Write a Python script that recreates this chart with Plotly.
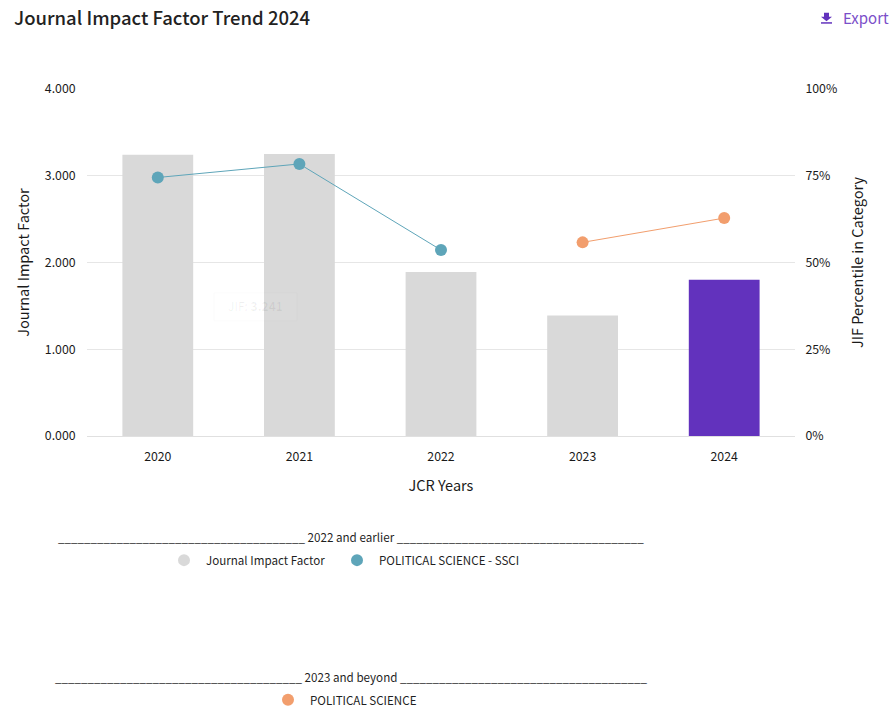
import plotly.graph_objects as go

FONT = "Noto Sans CJK SC"
years = ["2020", "2021", "2022", "2023", "2024"]
jif_values = [3.241, 3.25, 1.89, 1.39, 1.80]
bar_colors = ["#d9d9d9", "#d9d9d9", "#d9d9d9", "#d9d9d9", "#6232bd"]
ssci_years = ["2020", "2021", "2022"]
ssci_pct = [74.5, 78.4, 53.6]
pol_years = ["2023", "2024"]
pol_pct = [55.8, 62.8]
y_ticks = [0, 1, 2, 3, 4]
y_labels = ["0.000", "1.000", "2.000", "3.000", "4.000"]
y2_ticks = [0, 25, 50, 75, 100]
y2_labels = ["0%", "25%", "50%", "75%", "100%"]

W, H = 893, 726
L, R, T, B = 87, 795, 88.5, 436.5
px = lambda x: (x - L) / (R - L)
py = lambda y: (B - y) / (B - T)

fig = go.Figure()
fig.add_bar(x=years, y=jif_values, marker=dict(color=bar_colors, line_width=0), width=0.5,
            name="Journal Impact Factor", yaxis="y", showlegend=False)
fig.add_scatter(x=ssci_years, y=ssci_pct, yaxis="y2", mode="lines+markers", showlegend=False,
                name="POLITICAL SCIENCE - SSCI",
                line=dict(color="#5ea5b9", width=1), marker=dict(color="#5ea5b9", size=12))
fig.add_scatter(x=pol_years, y=pol_pct, yaxis="y2", mode="lines+markers", showlegend=False,
                name="POLITICAL SCIENCE",
                line=dict(color="#f29e6d", width=1), marker=dict(color="#f29e6d", size=12))


def text(x, y, s, size=12, color="#1f1f1f", anchor="left", weight=None):
    font = dict(family=FONT, size=size, color=color)
    if weight:
        font["weight"] = weight
    fig.add_annotation(xref="paper", yref="paper", x=px(x), y=py(y), text=s, showarrow=False,
                       xanchor=anchor, yanchor="middle", font=font, borderpad=0)


def dot(cx, cy, color):
    fig.add_shape(type="circle", xref="paper", yref="paper", x0=px(cx - 6), x1=px(cx + 6),
                  y0=py(cy + 6), y1=py(cy - 6), fillcolor=color, line_width=0)


text(12.5, 16, "Journal Impact Factor Trend 2024", size=18.5, color="#222222", weight=500)
text(841.5, 17, "Export", size=15, color="#7b4fc9")
# export icon
fig.add_shape(type="path", xref="paper", yref="paper",
              path="M %f %f L %f %f L %f %f L %f %f L %f %f L %f %f L %f %f Z" % (
                  px(824), py(12), px(829), py(12), px(829), py(16), px(832), py(16),
                  px(826.5), py(20.5), px(821), py(16), px(824), py(16)),
              fillcolor="#6232bd", line_width=0)
fig.add_shape(type="rect", xref="paper", yref="paper", x0=px(821), x1=px(832), y0=py(23), y1=py(21.5),
              fillcolor="#6232bd", line_width=0)

# faint tooltip left over in the picture
fig.add_shape(type="rect", xref="paper", yref="paper", x0=px(214), x1=px(297), y0=py(321), y1=py(293),
              fillcolor="rgba(255,255,255,0.05)", line=dict(color="rgba(0,0,0,0.015)", width=1), layer="above")
text(255.5, 306, "JIF: <b>3.241</b>", size=12, color="rgba(0,0,0,0.06)", anchor="center")

rule = "_" * 38
text(350.5, 538, rule + " 2022 and earlier " + rule, size=11.63, anchor="center")
dot(184, 561, "#d9d9d9")
text(205.2, 561, "Journal Impact Factor", size=11.6)
dot(357, 561, "#5ea5b9")
text(377.5, 561, "POLITICAL SCIENCE - SSCI", size=11.6)
text(351, 678, rule + " 2023 and beyond " + rule, size=11.63, anchor="center")
dot(288, 701, "#f29e6d")
text(308.5, 701, "POLITICAL SCIENCE", size=11.6)

tickfont = dict(family=FONT, size=12.3, color="#1a1a1a")
titlefont = dict(family=FONT, size=14.5, color="#1a1a1a")
fig.update_layout(
    width=W, height=H, margin=dict(l=L, r=W - R, t=T, b=H - B, pad=0, autoexpand=False),
    plot_bgcolor="white", paper_bgcolor="white", bargap=0.5, showlegend=False, hovermode=False,
    font=dict(family=FONT),
    xaxis=dict(type="category", categoryorder="array", categoryarray=years, tickfont=tickfont,
               showgrid=False, zeroline=False, showline=True, linecolor="#e0e0e0", linewidth=1,
               ticks="outside", ticklen=9, tickcolor="rgba(0,0,0,0)",
               title=dict(text="JCR Years", font=titlefont, standoff=17),
               automargin=False),
    yaxis=dict(range=[0, 4], tickvals=y_ticks, ticktext=y_labels, tickfont=tickfont,
               gridcolor="#e6e6e6", gridwidth=1, zeroline=False, ticks="outside", ticklen=8,
               tickcolor="rgba(0,0,0,0)", title=dict(text="Journal Impact Factor", font=titlefont, standoff=11),
               automargin=False),
    yaxis2=dict(range=[0, 100], tickvals=y2_ticks, ticktext=y2_labels, tickfont=tickfont,
                overlaying="y", side="right", showgrid=False, zeroline=False, ticks="outside", ticklen=7,
                tickcolor="rgba(0,0,0,0)", title=dict(text="JIF Percentile in Category", font=titlefont, standoff=16),
                automargin=False),
)
fig.write_html("out.html", post_script="document.body.style.margin='0';",
               config={"displayModeBar": False})
